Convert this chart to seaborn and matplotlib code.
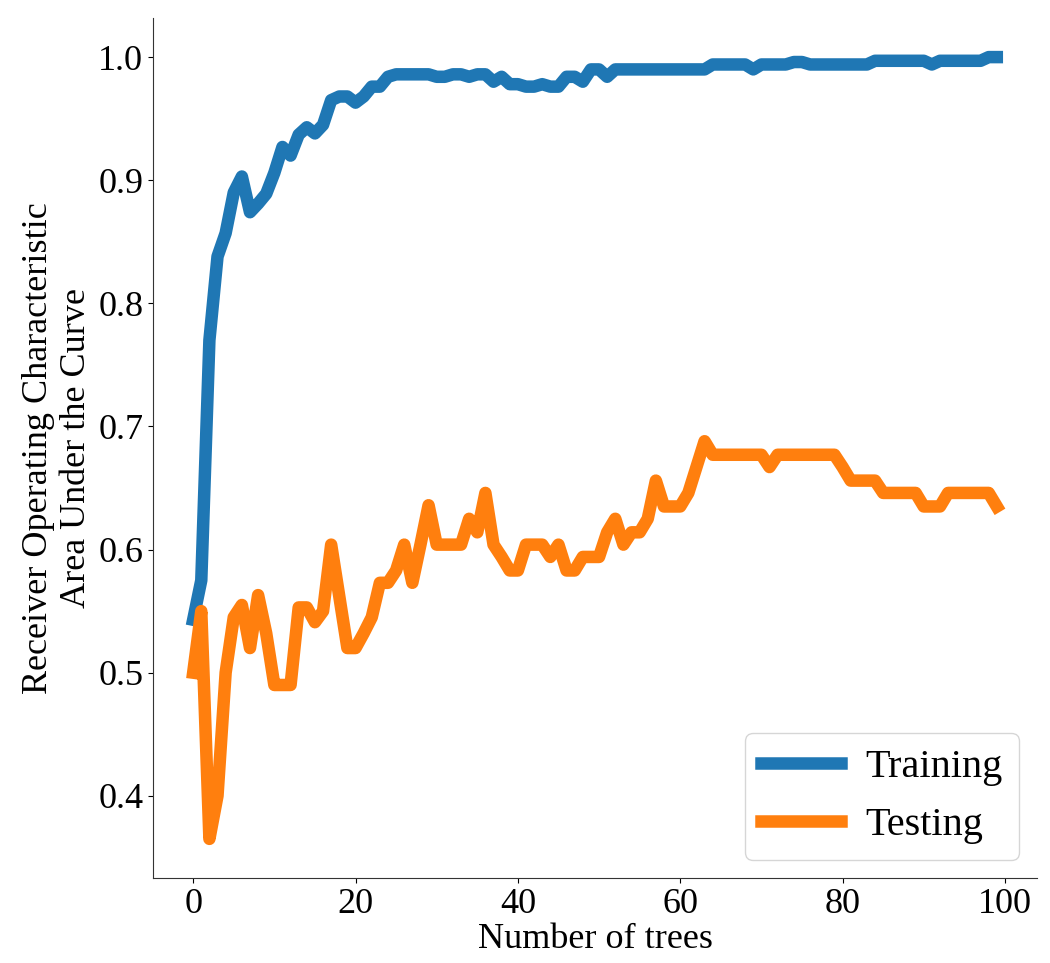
import numpy as np
import pandas as pd
import seaborn as sns
import matplotlib.pyplot as plt

sns.set_style("ticks")
plt.rcParams['font.family'] = ['Liberation Serif', 'DejaVu Serif']
plt.rcParams['text.color'] = 'black'
plt.rcParams['axes.labelcolor'] = 'black'
plt.rcParams['xtick.color'] = 'black'
plt.rcParams['ytick.color'] = 'black'
plt.rcParams['axes.edgecolor'] = '#333333'

n_trees = list(range(100))

train_auc = [
    0.543, 0.575, 0.770, 0.838, 0.857, 0.890, 0.903, 0.874, 0.881, 0.889,
    0.906, 0.927, 0.920, 0.937, 0.943, 0.938, 0.945, 0.965, 0.968, 0.968,
    0.963, 0.968, 0.976, 0.976, 0.984, 0.986, 0.986, 0.986, 0.986, 0.986,
    0.984, 0.984, 0.986, 0.986, 0.984, 0.986, 0.986, 0.980, 0.984, 0.978,
    0.978, 0.976, 0.976, 0.978, 0.976, 0.976, 0.984, 0.984, 0.980, 0.990,
    0.990, 0.984, 0.990, 0.990, 0.990, 0.990, 0.990, 0.990, 0.990, 0.990,
    0.990, 0.990, 0.990, 0.990, 0.994, 0.994, 0.994, 0.994, 0.994, 0.990,
    0.994, 0.994, 0.994, 0.994, 0.996, 0.996, 0.994, 0.994, 0.994, 0.994,
    0.994, 0.994, 0.994, 0.994, 0.997, 0.997, 0.997, 0.997, 0.997, 0.997,
    0.997, 0.994, 0.997, 0.997, 0.997, 0.997, 0.997, 0.997, 1.000, 1.000,
]

test_auc = [
    0.500, 0.550, 0.365, 0.400, 0.500, 0.545, 0.555, 0.520, 0.563, 0.532,
    0.490, 0.490, 0.490, 0.553, 0.553, 0.541, 0.550, 0.604, 0.562, 0.520,
    0.520, 0.532, 0.545, 0.573, 0.573, 0.583, 0.604, 0.573, 0.604, 0.636,
    0.604, 0.604, 0.604, 0.604, 0.625, 0.614, 0.646, 0.604, 0.594, 0.583,
    0.583, 0.604, 0.604, 0.604, 0.594, 0.604, 0.583, 0.583, 0.594, 0.594,
    0.594, 0.614, 0.625, 0.604, 0.614, 0.614, 0.625, 0.656, 0.635, 0.635,
    0.635, 0.646, 0.667, 0.688, 0.677, 0.677, 0.677, 0.677, 0.677, 0.677,
    0.677, 0.667, 0.677, 0.677, 0.677, 0.677, 0.677, 0.677, 0.677, 0.677,
    0.667, 0.656, 0.656, 0.656, 0.656, 0.646, 0.646, 0.646, 0.646, 0.646,
    0.635, 0.635, 0.635, 0.646, 0.646, 0.646, 0.646, 0.646, 0.646, 0.635,
]

fig, ax = plt.subplots(figsize=(10.5, 9.63), dpi=100)
fig.subplots_adjust(left=0.1457, right=0.9876, bottom=0.0883, top=0.9813)

sns.lineplot(x=n_trees, y=train_auc, color='#1f77b4', linewidth=9,
             solid_capstyle='projecting', label='Training', ax=ax)
sns.lineplot(x=n_trees, y=test_auc, color='#ff7f0e', linewidth=9,
             solid_capstyle='projecting', label='Testing', ax=ax)

ax.set_xlabel('Number of trees', fontsize=26, labelpad=2)
ax.set_ylabel('Receiver Operating Characteristic\nArea Under the Curve',
              fontsize=26)
ax.tick_params(labelsize=26)
ax.legend(loc='lower right', fontsize=29, handlelength=2.0,
          handletextpad=0.6, borderaxespad=0.45)
sns.despine(ax=ax)

plt.savefig('out.png')
